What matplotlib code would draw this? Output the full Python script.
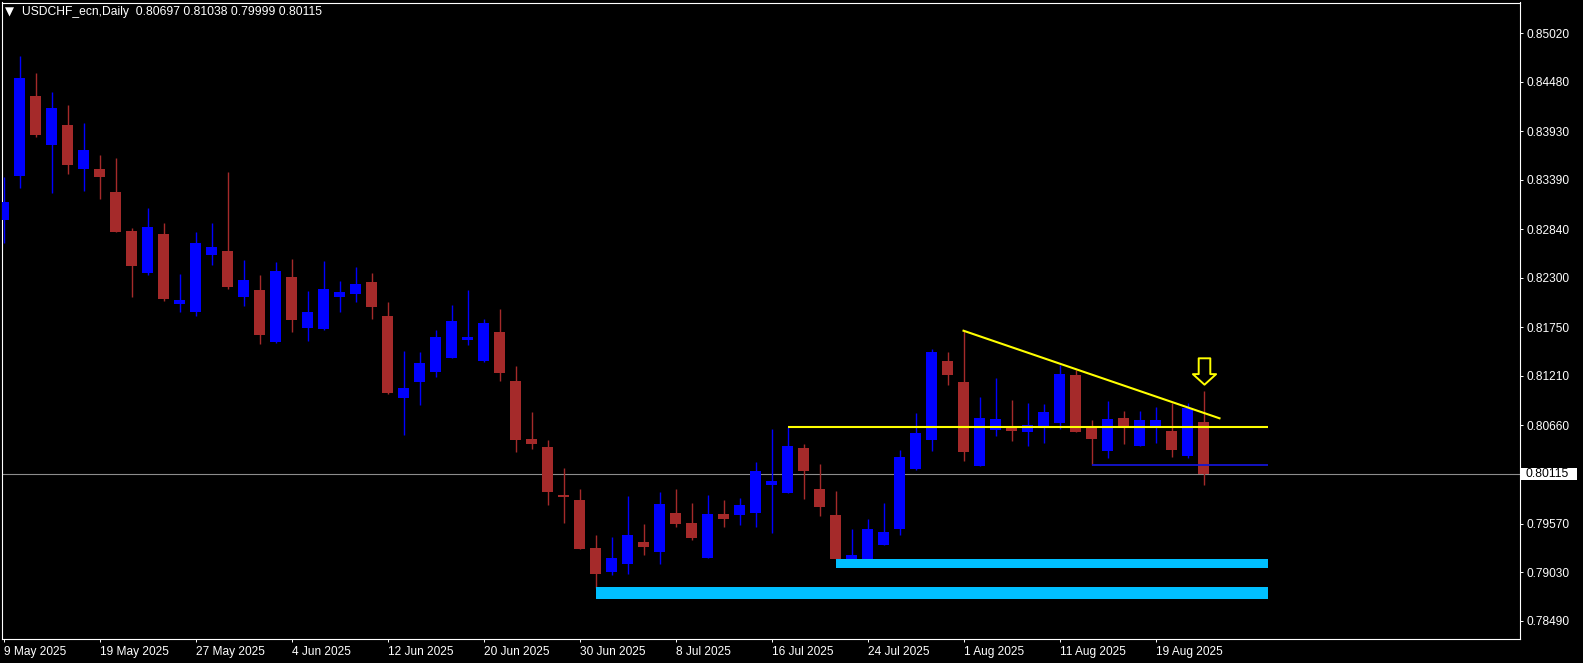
import matplotlib.pyplot as plt
import matplotlib.transforms as mtransforms
from matplotlib.path import Path
import numpy as np

plt.rcParams['font.family'] = ['Liberation Sans', 'DejaVu Sans']

symbol = 'USDCHF_ecn,Daily'

# daily candles, 9 May 2025 .. 22 Aug 2025
opens = [0.82946, 0.83435, 0.84320, 0.83776, 0.83998, 0.83509, 0.83509, 0.83254, 0.82820, 0.82354,
         0.82787, 0.82013, 0.81924, 0.82554, 0.82598, 0.82087, 0.82165, 0.81590, 0.82309, 0.81746,
         0.81731, 0.82090, 0.82124, 0.82254, 0.81876, 0.80968, 0.81146, 0.81257, 0.81413, 0.81613,
         0.81376, 0.81698, 0.81154, 0.80509, 0.80420, 0.79887, 0.79831, 0.79298, 0.79035, 0.79124,
         0.79365, 0.79257, 0.79687, 0.79576, 0.79190, 0.79676, 0.79668, 0.79690, 0.80001, 0.79913,
         0.80409, 0.79954, 0.79665, 0.79157, 0.79090, 0.79335, 0.79509, 0.80176, 0.80501, 0.81376,
         0.81143, 0.80213, 0.80613, 0.80654, 0.80590, 0.80654, 0.80687, 0.81220, 0.80654, 0.80376,
         0.80743, 0.80435, 0.80643, 0.80598, 0.80320, 0.80697]
highs = [0.83424, 0.84765, 0.84576, 0.84365, 0.84220, 0.84020, 0.83665, 0.83631, 0.82854, 0.83076,
         0.82909, 0.82343, 0.82809, 0.82909, 0.83476, 0.82498, 0.82331, 0.82476, 0.82509, 0.82154,
         0.82487, 0.82265, 0.82420, 0.82354, 0.82031, 0.81487, 0.81476, 0.81720, 0.81998, 0.82165,
         0.81843, 0.81954, 0.81320, 0.80809, 0.80498, 0.80187, 0.79954, 0.79443, 0.79420, 0.79876,
         0.79565, 0.79920, 0.79954, 0.79798, 0.79887, 0.79831, 0.79854, 0.80254, 0.80620, 0.80646,
         0.80454, 0.80231, 0.79931, 0.79509, 0.79620, 0.79798, 0.80387, 0.80798, 0.81509, 0.81476,
         0.81720, 0.80976, 0.81187, 0.80943, 0.80909, 0.80898, 0.81331, 0.81276, 0.80720, 0.80931,
         0.80820, 0.80820, 0.80865, 0.80909, 0.80909, 0.81038]
lows = [0.82690, 0.83301, 0.83868, 0.83246, 0.83457, 0.83268, 0.83179, 0.82805, 0.82090, 0.82335,
        0.82046, 0.81924, 0.81879, 0.82443, 0.82179, 0.81990, 0.81565, 0.81576, 0.81701, 0.81601,
        0.81725, 0.81924, 0.82035, 0.81846, 0.81013, 0.80554, 0.80890, 0.81201, 0.81410, 0.81557,
        0.81370, 0.81157, 0.80365, 0.80401, 0.79779, 0.79579, 0.79285, 0.78854, 0.79001, 0.79013,
        0.79224, 0.79124, 0.79535, 0.79390, 0.79185, 0.79535, 0.79557, 0.79535, 0.79468, 0.79910,
        0.79846, 0.79657, 0.79175, 0.79113, 0.79085, 0.79330, 0.79446, 0.80170, 0.80379, 0.81113,
        0.80268, 0.80208, 0.80546, 0.80490, 0.80435, 0.80465, 0.80620, 0.80582, 0.80224, 0.80301,
        0.80454, 0.80430, 0.80465, 0.80309, 0.80301, 0.79999]
closes = [0.83143, 0.84520, 0.83887, 0.84187, 0.83554, 0.83720, 0.83420, 0.82809, 0.82431, 0.82865,
          0.82065, 0.82054, 0.82687, 0.82643, 0.82198, 0.82276, 0.81665, 0.82376, 0.81835, 0.81920,
          0.82176, 0.82143, 0.82231, 0.81979, 0.81020, 0.81076, 0.81354, 0.81643, 0.81820, 0.81643,
          0.81798, 0.81246, 0.80501, 0.80457, 0.79924, 0.79868, 0.79290, 0.79013, 0.79187, 0.79443,
          0.79313, 0.79787, 0.79568, 0.79413, 0.79676, 0.79624, 0.79776, 0.80154, 0.80043, 0.80431,
          0.80157, 0.79757, 0.79179, 0.79220, 0.79509, 0.79476, 0.80309, 0.80576, 0.81476, 0.81220,
          0.80368, 0.80743, 0.80731, 0.80598, 0.80665, 0.80809, 0.81231, 0.80587, 0.80509, 0.80731,
          0.80643, 0.80720, 0.80720, 0.80387, 0.80854, 0.80115]

date_labels = ['9 May 2025', '19 May 2025', '27 May 2025', '4 Jun 2025', '12 Jun 2025',
               '20 Jun 2025', '30 Jun 2025', '8 Jul 2025', '16 Jul 2025', '24 Jul 2025',
               '1 Aug 2025', '11 Aug 2025', '19 Aug 2025']
date_label_bars = [0, 6, 12, 18, 24, 30, 36, 42, 48, 54, 60, 66, 72]

price_ticks = [0.85020, 0.84480, 0.83930, 0.83390, 0.82840, 0.82300, 0.81750,
               0.81210, 0.80660, 0.79570, 0.79030, 0.78490]

# objects drawn on the chart (bar index, price)
objects_end = 79
resistance_bar, resistance_level = 49, 0.80646
support_bar, support_level = 68, 0.80224
zone_bars = [52, 37]
zone_lows = [0.79079, 0.78731]
zone_highs = [0.79176, 0.78864]
trend_bars = [60, 76]
trend_prices = [0.81712, 0.80739]
signal_bar, signal_price = 75, 0.81267

BULL = '#0000ff'
BEAR = '#a52a2a'
YELLOW = '#ffff00'
CYAN = '#00bfff'

fig = plt.figure(figsize=(15.83, 6.63), dpi=100, facecolor='black')
ax = fig.add_axes([2 / 1583, 1 - 639 / 663, 1518 / 1583, 636.5 / 663])
ax.set_facecolor('black')

x = np.arange(len(opens))
o = np.array(opens)
c = np.array(closes)
colors = [BULL if cc >= oo else BEAR for oo, cc in zip(o, c)]

# wicks then bodies
ax.vlines(x, lows, highs, colors=colors, linewidth=1, zorder=3)
body_h = np.maximum(np.abs(c - o), 0.00012)
ax.bar(x, body_h, bottom=np.minimum(o, c), width=0.69, color=colors,
       linewidth=0, zorder=4)

# zones / lines
for b, lo, hi in zip(zone_bars, zone_lows, zone_highs):
    ax.fill_between([b, objects_end], lo, hi, color=CYAN, linewidth=0, zorder=5)
ax.hlines(resistance_level, resistance_bar, objects_end, color=YELLOW, linewidth=1.5, zorder=6)
ax.hlines(support_level, support_bar, objects_end, color='#1414d2', linewidth=1.3, zorder=6)
ax.plot(trend_bars, trend_prices, color=YELLOW, linewidth=1.5, zorder=6)
ax.axhline(closes[-1], color='#8c8c8c', linewidth=0.8, zorder=2)

arrow = Path([(-5.5, 12.5), (5.5, 12.5), (5.5, -2.5), (11, -2.5), (0, -12.5),
              (-11, -2.5), (-5.5, -2.5), (-5.5, 12.5)], closed=True)
ax.plot([signal_bar], [signal_price], marker=arrow, markersize=19, markerfacecolor='black',
        markeredgecolor=YELLOW, markeredgewidth=1.4, linestyle='none', zorder=7)

# axes
ax.set_xlim(-0.094, 94.78)
ax.set_ylim(0.782867, 0.853589)
for s in ax.spines.values():
    s.set_color('white')
    s.set_linewidth(0.8)

ax.yaxis.tick_right()
ax.set_yticks(price_ticks)
ax.set_yticklabels([f'{v:.5f}' for v in price_ticks])
ax.tick_params(axis='y', colors='white', length=2.2, width=0.7, pad=2.2, labelsize=8.6)
ax.set_xticks(date_label_bars)
ax.set_xticklabels(date_labels, ha='left')
ax.tick_params(axis='x', colors='white', length=2.2, width=0.7, pad=3.0, labelsize=8.6)

# current price box on the price scale
blend = mtransforms.blended_transform_factory(ax.transAxes, ax.transData)
box_h = 12 / 9000
ax.add_patch(plt.Rectangle((1.0005, closes[-1] - box_h / 2), 56 / 1518, box_h,
                           transform=blend, facecolor='white', edgecolor='none',
                           clip_on=False, zorder=8))
ax.text(1 + 5 / 1518, closes[-1], f'{closes[-1]:.5f}', transform=blend, color='black',
        fontsize=8.8, va='center', ha='left', clip_on=False, zorder=9)

# header
fig.text(5 / 1583, 1 - 12.5 / 663, '\u25bc', color='white', fontsize=8.5, va='center', ha='left',
         family=['DejaVu Sans'])
fig.text(21.7 / 1583, 1 - 12.5 / 663,
         f'{symbol}  {opens[-1]:.5f} {highs[-1]:.5f} {lows[-1]:.5f} {closes[-1]:.5f}',
         color='white', fontsize=8.7, va='center', ha='left')

fig.savefig('out.png', dpi=100, facecolor='black')
